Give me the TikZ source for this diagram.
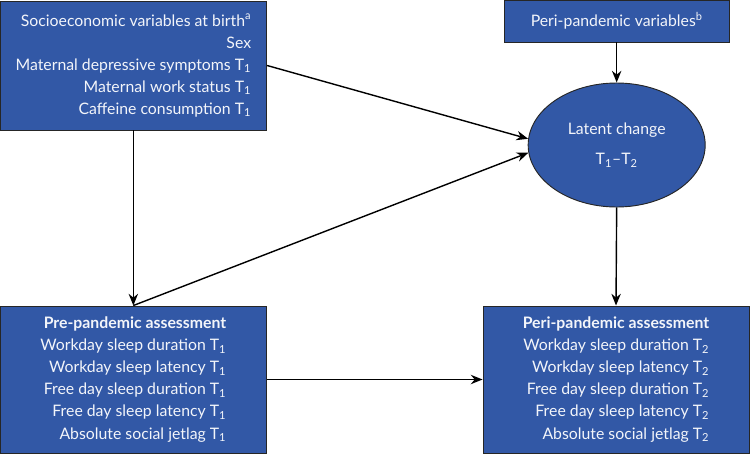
\documentclass[tikz,border=0pt]{standalone}
\usepackage{fontspec}
\setmainfont{Lato}
\usepackage{tikz}
\usetikzlibrary{shapes.geometric, arrows.meta, positioning}
\definecolor{BoxBlue}{HTML}{3258A6}

\begin{document}
\begin{tikzpicture}[
    >=Stealth,
    varbox/.style={
        rectangle,
        fill=BoxBlue,
        draw=black!85,
        line width=0.8pt,
        text=white!94!BoxBlue,
        align=right,
        inner sep=0pt,
        font=\fontsize{13.5}{18.8}\selectfont
    },
    latentnode/.style={
        ellipse,
        fill=BoxBlue,
        draw=black!85,
        line width=0.8pt,
        text=white!94!BoxBlue,
        align=center,
        inner sep=0pt,
        minimum width=5.31cm,
        minimum height=3.72cm,
        font=\fontsize{13.5}{18.8}\selectfont
    },
    path/.style={
        draw=black,
        line width=1.2pt,
        ->,
        >={Stealth[length=10pt,width=8pt]}
    }
]
\useasboundingbox (0,0) rectangle (22.5,-13.65);

% Boxes
\node[varbox, minimum width=8cm, minimum height=3.87cm] (soc) at (4.0, -1.965) {%
    Socioeconomic variables at birth\textsuperscript{a}\\
    Sex\\
    Maternal depressive symptoms T\textsubscript{1}\\
    Maternal work status T\textsubscript{1}\\
    Caffeine consumption T\textsubscript{1}};

\node[varbox, align=center, minimum width=6.75cm, minimum height=1.26cm] (peri) at (18.5, -0.63) {%
    Peri-pandemic variables\textsuperscript{b}};

\node[latentnode] (latent) at (18.5, -4.35) {Latent change\\[7pt] T\textsubscript{1}--T\textsubscript{2}};

\node[varbox, minimum width=8cm, minimum height=4.41cm] (pre) at (4.0, -11.385) {%
    \textbf{Pre-pandemic assessment}\\
    Workday sleep duration T\textsubscript{1}\\
    Workday sleep latency T\textsubscript{1}\\
    Free day sleep duration T\textsubscript{1}\\
    Free day sleep latency T\textsubscript{1}\\
    Absolute social jetlag T\textsubscript{1}};

\node[varbox, minimum width=7.98cm, minimum height=4.41cm] (post) at (18.48, -11.385) {%
    \textbf{Peri-pandemic assessment}\\
    Workday sleep duration T\textsubscript{2}\\
    Workday sleep latency T\textsubscript{2}\\
    Free day sleep duration T\textsubscript{2}\\
    Free day sleep latency T\textsubscript{2}\\
    Absolute social jetlag T\textsubscript{2}};

% Paths
\draw[path] (soc.south) -- (pre.north);
\draw[path] (soc.east) -- (latent.176);
\draw[path] (pre.north) -- (latent.185);
\draw[path] (peri.south) -- (latent.north);
\draw[path] (latent.south) -- (post.north);
\draw[path] (pre.east) -- (post.west);

\end{tikzpicture}
\end{document}
